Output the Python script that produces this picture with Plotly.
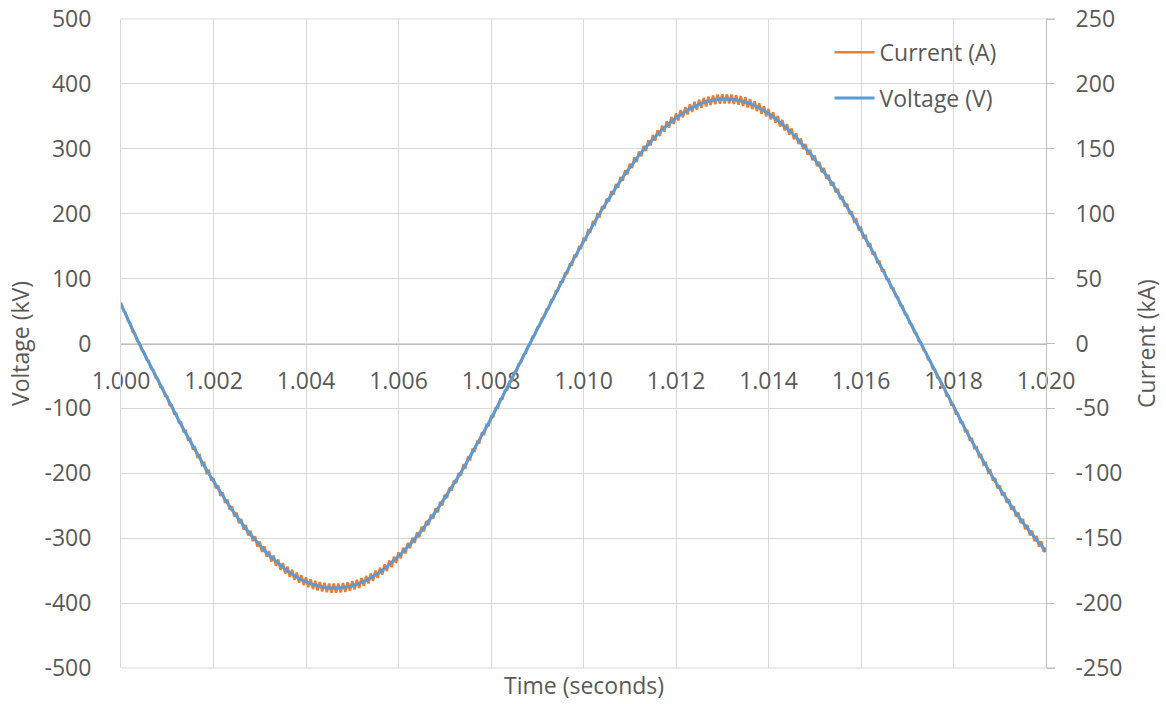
import numpy as np
import plotly.graph_objects as go

# Sampling grids (seconds)
time_voltage = np.round(np.linspace(1.000, 1.020, 201), 5)
time_current = np.round(np.linspace(1.000, 1.020, 401), 6)

# Voltage (kV), every 0.1 ms
voltage_kv = [
    60.5, 44.6, 28.6, 13.1, -1.4, -15.4, -29.4, -43.3, -57.2, -71.0,
    -84.7, -98.3, -111.8, -125.1, -138.2, -151.2, -163.9, -176.4, -188.7, -200.7,
    -212.4, -223.8, -234.9, -245.7, -256.2, -266.3, -276.0, -285.4, -294.4, -302.9,
    -311.1, -318.8, -326.1, -332.9, -339.2, -345.0, -350.5, -355.4, -359.8, -363.7,
    -367.2, -370.1, -372.5, -374.4, -375.8, -376.7, -377.0, -376.8, -376.1, -374.9,
    -373.2, -370.9, -368.1, -364.9, -361.1, -356.8, -352.0, -346.8, -341.0, -334.9,
    -328.2, -321.0, -313.5, -305.4, -297.0, -288.1, -278.9, -269.4, -259.5, -249.1,
    -238.3, -227.3, -216.0, -204.3, -192.5, -180.2, -167.8, -155.1, -142.2, -129.2,
    -115.9, -102.5, -89.0, -75.3, -61.5, -47.6, -33.7, -19.7, -5.7, 8.3,
    22.3, 36.3, 50.2, 64.0, 77.8, 91.5, 105.0, 118.4, 131.6, 144.6,
    157.5, 170.1, 182.5, 194.6, 206.5, 218.1, 229.4, 240.3, 251.0, 261.3,
    271.2, 280.7, 289.9, 298.6, 306.9, 314.9, 322.4, 329.4, 336.0, 342.1,
    347.8, 352.9, 357.6, 361.8, 365.5, 368.7, 371.3, 373.5, 375.2, 376.3,
    376.9, 377.0, 376.5, 375.6, 374.1, 372.1, 369.6, 366.6, 363.1, 359.0,
    354.5, 349.5, 344.0, 338.0, 331.6, 324.7, 317.4, 309.6, 301.3, 292.7,
    283.7, 274.3, 264.5, 254.3, 243.8, 233.0, 221.9, 210.3, 198.5, 186.5,
    174.1, 161.6, 148.8, 135.8, 122.7, 109.3, 95.8, 82.2, 68.5, 54.7,
    40.8, 26.8, 12.8, -1.2, -15.2, -29.2, -43.1, -57.0, -70.8, -84.6,
    -98.1, -111.6, -124.9, -138.1, -151.0, -163.7, -176.2, -188.5, -200.5, -212.2,
    -223.7, -234.8, -245.6, -256.1, -266.2, -275.9, -285.3, -294.3, -302.8, -311.0,
    -320.7,
]

# Current (kA), every 0.05 ms (with ripple)
current_ka = [
    31.7, 25.4, 23.6, 17.5, 15.5, 9.1, 7.7, 1.7, 0.3, -5.2,
    -6.6, -12.3, -13.5, -19.4, -20.4, -26.4, -27.2, -33.5, -34.0, -40.4,
    -40.8, -47.4, -47.5, -54.2, -54.2, -60.9, -60.8, -67.6, -67.2, -74.3,
    -73.6, -80.8, -79.9, -87.2, -86.0, -93.5, -92.1, -99.7, -98.1, -105.6,
    -103.8, -111.5, -109.4, -117.2, -114.9, -122.8, -120.3, -128.1, -125.4, -133.3,
    -130.4, -138.4, -135.2, -143.2, -139.8, -147.9, -144.2, -152.3, -148.5, -156.5,
    -152.5, -160.6, -156.3, -164.3, -159.9, -168.0, -163.3, -171.2, -166.4, -174.3,
    -169.2, -177.2, -172.0, -179.8, -174.3, -182.2, -176.5, -184.3, -178.5, -186.1,
    -180.2, -187.7, -181.6, -189.2, -182.8, -190.2, -183.7, -191.1, -184.4, -191.6,
    -184.9, -191.9, -185.0, -192.0, -184.9, -191.7, -184.6, -191.3, -184.0, -190.5,
    -183.1, -189.5, -182.0, -188.3, -180.6, -186.8, -179.1, -184.9, -177.2, -182.9,
    -175.0, -180.6, -172.7, -178.0, -170.1, -175.3, -167.2, -172.3, -164.3, -169.0,
    -160.9, -165.5, -157.4, -161.7, -153.7, -157.8, -149.7, -153.6, -145.5, -149.3,
    -141.2, -144.7, -136.7, -139.9, -131.9, -135.0, -127.1, -129.9, -121.9, -124.6,
    -116.6, -119.0, -111.2, -113.3, -105.6, -107.5, -99.8, -101.6, -94.0, -95.5,
    -87.9, -89.2, -81.8, -82.8, -75.6, -76.3, -69.2, -69.8, -62.7, -63.2,
    -56.2, -56.4, -49.6, -49.6, -42.9, -42.7, -36.2, -35.7, -29.4, -28.7,
    -22.5, -21.6, -15.7, -14.6, -8.8, -7.5, -1.9, -0.4, 5.3, 6.6,
    12.3, 13.6, 19.4, 20.4, 26.4, 27.3, 33.4, 34.1, 40.4, 40.8,
    47.4, 47.5, 54.2, 54.2, 61.0, 60.7, 67.7, 67.2, 74.3, 73.5,
    80.8, 79.9, 87.2, 86.1, 93.5, 92.1, 99.6, 98.0, 105.7, 103.8,
    111.5, 109.5, 117.2, 114.9, 122.8, 120.2, 128.2, 125.4, 133.4, 130.4,
    138.4, 135.2, 143.3, 139.8, 147.9, 144.2, 152.3, 148.4, 156.5, 152.5,
    160.6, 156.2, 164.3, 159.9, 167.9, 163.2, 171.2, 166.3, 174.4, 169.2,
    177.2, 171.9, 179.8, 174.3, 182.2, 176.5, 184.3, 178.4, 186.2, 180.2,
    187.8, 181.6, 189.2, 182.7, 190.3, 183.7, 191.1, 184.4, 191.7, 184.8,
    192.0, 185.0, 192.0, 184.9, 191.8, 184.5, 191.3, 183.9, 190.6, 183.1,
    189.6, 181.9, 188.3, 180.6, 186.7, 179.0, 185.0, 177.1, 182.9, 175.0,
    180.7, 172.6, 178.1, 170.1, 175.3, 167.2, 172.2, 164.2, 169.0, 160.9,
    165.6, 157.3, 161.8, 153.7, 157.9, 149.6, 153.7, 145.5, 149.3, 141.2,
    144.8, 136.6, 140.0, 131.9, 135.1, 126.9, 129.9, 121.8, 124.5, 116.6,
    119.0, 111.2, 113.5, 105.6, 107.6, 99.8, 101.6, 94.0, 95.5, 88.0,
    89.3, 81.7, 82.9, 75.5, 76.4, 69.2, 69.8, 62.7, 63.2, 56.2,
    56.4, 49.6, 49.5, 42.9, 42.6, 36.2, 35.8, 29.3, 28.8, 22.5,
    21.7, 15.6, 14.6, 8.7, 7.5, 1.8, 0.4, -5.1, -6.5, -12.2,
    -13.4, -19.3, -20.3, -26.3, -27.1, -33.4, -33.9, -40.4, -40.7, -47.3,
    -47.4, -54.1, -54.1, -60.8, -60.7, -67.6, -67.2, -74.2, -73.5, -80.7,
    -79.8, -87.1, -85.9, -93.4, -92.1, -99.5, -98.0, -105.5, -103.7, -111.4,
    -109.4, -117.1, -114.8, -122.7, -120.2, -128.0, -125.4, -133.3, -130.3, -138.3,
    -135.2, -143.1, -139.8, -147.8, -144.2, -152.3, -148.4, -156.5, -152.4, -160.5,
    -157.3,
]

series_names = ["Current (A)", "Voltage (V)"]
x_title = "Time (seconds)"
y_left_title = "Voltage (kV)"
y_right_title = "Current (kA)"

voltage_ticks = [-500, -400, -300, -200, -100, 0, 100, 200, 300, 400, 500]
voltage_ticktext = ["-500", "-400", "-300", "-200", "-100", "0", "100", "200", "300", "400", "500"]
current_ticks = [-250, -200, -150, -100, -50, 0, 50, 100, 150, 200, 250]
current_ticktext = ["-250", "-200", "-150", "-100", "-50", "0", "50", "100", "150", "200", "250"]

ORANGE = "#ED7D31"
BLUE = "#5B9BD5"
GRID = "#D9D9D9"
AXIS = "#BFBFBF"
TEXT = "#595959"
FONT = "Open Sans"
FS = 23
tf = dict(family=FONT, size=FS, color=TEXT)

fig = go.Figure()
# Current on the base axis (right side), voltage on overlaying axis (left side) so blue is on top
fig.add_trace(go.Scatter(
    x=time_current, y=current_ka, name=series_names[0], mode="lines",
    line=dict(color=ORANGE, width=2.5), xaxis="x", yaxis="y", legendgroup="a",
))
fig.add_trace(go.Scatter(
    x=time_voltage, y=voltage_kv, name=series_names[1], mode="lines",
    line=dict(color=BLUE, width=3), xaxis="x", yaxis="y2", legendgroup="b",
))

# plot area sits at 121..1046 x 19..668 (page body margin removed in post_script)
fig.update_layout(
    width=1166, height=704,
    margin=dict(l=121, r=120, t=19, b=36, autoexpand=False),
    plot_bgcolor="white", paper_bgcolor="white",
    font=tf,
    showlegend=True,
    hovermode=False,
    legend=dict(
        x=0.766, y=0.982, xanchor="left", yanchor="top",
        bgcolor="rgba(0,0,0,0)", font=tf, itemwidth=40,
        traceorder="grouped", tracegroupgap=13,
    ),
    xaxis=dict(
        range=[1.000, 1.020], tick0=1.000, dtick=0.002, tickformat=".3f",
        showgrid=True, gridcolor=GRID, gridwidth=1,
        anchor="free", position=0.5, automargin=False,
        showline=True, linecolor=AXIS, linewidth=1,
        zeroline=False, ticks="", layer="below traces",
        ticklabelstandoff=17, tickfont=tf, ticklabeloverflow="allow",
    ),
    yaxis=dict(
        range=[-250, 250], tickvals=current_ticks, ticktext=current_ticktext,
        side="right", automargin=False,
        showgrid=True, gridcolor=GRID, gridwidth=1,
        zeroline=False, showline=True, linecolor=AXIS,
        ticks="outside", ticklen=8, tickcolor=AXIS,
        ticklabelstandoff=16, ticklabeloverflow="allow",
        title=dict(text=y_right_title, standoff=17, font=tf),
        tickfont=tf,
    ),
    yaxis2=dict(
        range=[-500, 500], tickvals=voltage_ticks, ticktext=voltage_ticktext,
        side="left", overlaying="y", automargin=False,
        showgrid=False, zeroline=False, showline=True, linecolor=GRID, ticks="",
        ticklabelstandoff=24, ticklabeloverflow="allow",
        title=dict(text=y_left_title, standoff=8, font=tf),
        tickfont=tf,
    ),
    shapes=[
        dict(type="line", xref="paper", yref="paper", x0=0, x1=1, y0=1, y1=1,
             line=dict(color=GRID, width=1), layer="below"),
        dict(type="line", xref="paper", yref="paper", x0=0, x1=1, y0=0, y1=0,
             line=dict(color=GRID, width=1), layer="below"),
        dict(type="line", xref="paper", yref="paper", x0=1, x1=1.0097, y0=1, y1=1,
             line=dict(color=AXIS, width=1), layer="below"),
        dict(type="line", xref="paper", yref="paper", x0=1, x1=1.0097, y0=0, y1=0,
             line=dict(color=AXIS, width=1), layer="below"),
    ],
    annotations=[dict(
        text=x_title, xref="paper", yref="paper", x=0.5, y=-0.0525,
        xanchor="center", yanchor="bottom", showarrow=False, font=tf, borderpad=0,
    )],
)

fig.write_html(
    "out.html",
    config={"displayModeBar": False},
    post_script="document.body.style.margin='0';",
)
